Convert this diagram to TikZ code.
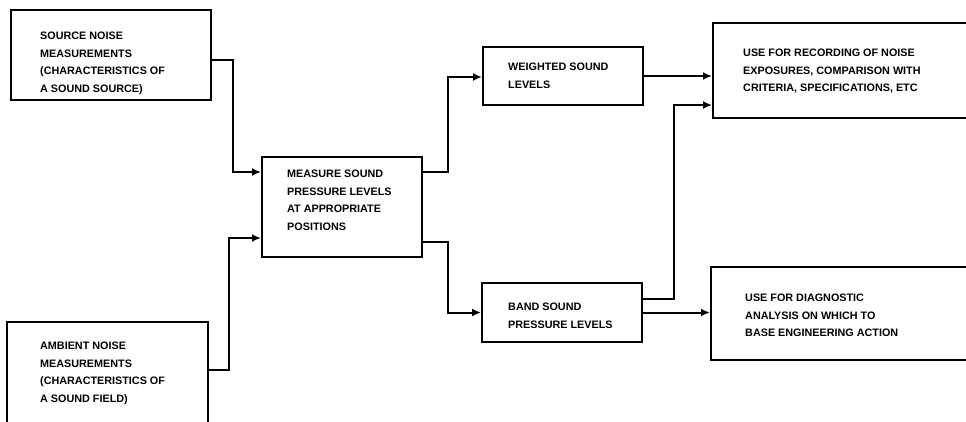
\documentclass[tikz,border=0pt]{standalone}
\usepackage{fontspec}
\setmainfont{Liberation Sans}
\usetikzlibrary{calc,arrows.meta}
\begin{document}
\begin{tikzpicture}[x=1pt,y=-1pt,
  box/.style={draw,line width=2pt,inner sep=0pt,rectangle},
  lbl/.style={anchor=north west,inner sep=0pt,align=left,
    font=\bfseries\fontsize{10.8}{17.5}\selectfont},
  conn/.style={line width=2pt,-{Latex[length=9pt,width=8pt]}}]
\useasboundingbox (0,0) rectangle (966,422);
\clip (0,0) rectangle (966,422);
% boxes
\node[box,minimum width=200pt,minimum height=90pt] (src) at (111,55) {};
\node[box,minimum width=201pt,minimum height=118pt] (amb) at (107.5,381) {};
\node[box,minimum width=160pt,minimum height=100pt] (meas) at (342,207) {};
\node[box,minimum width=160pt,minimum height=58pt] (wtd) at (563,76) {};
\node[box,minimum width=160pt,minimum height=59pt] (band) at (562,312.5) {};
\node[box,minimum width=277pt,minimum height=95pt] (use) at (851.5,70.5) {};
\node[box,minimum width=279pt,minimum height=93pt] (diag) at (850.5,313.5) {};
% texts
\node[lbl] (tsrc) at (40,32) {SOURCE NOISE\\MEASUREMENTS\\(CHARACTERISTICS OF\\A SOUND SOURCE)};
\node[lbl] (tamb) at (40,342) {AMBIENT NOISE\\MEASUREMENTS\\(CHARACTERISTICS OF\\A SOUND FIELD)};
\node[lbl] (tmeas) at (287,170) {MEASURE SOUND\\PRESSURE LEVELS\\AT APPROPRIATE\\POSITIONS};
\node[lbl] (twtd) at (508,63) {WEIGHTED SOUND\\LEVELS};
\node[lbl] (tband) at (508,303) {BAND SOUND\\PRESSURE LEVELS};
\node[lbl] (tuse) at (743,49) {USE FOR RECORDING OF NOISE\\EXPOSURES, COMPARISON WITH\\CRITERIA, SPECIFICATIONS, ETC};
\node[lbl] (tdiag) at (745,294) {USE FOR DIAGNOSTIC\\ANALYSIS ON WHICH TO\\BASE ENGINEERING ACTION};
% connectors
\draw[conn] ($(src.east)+(0,5)$) -- ++(21,0) |- ($(meas.west)+(0,-35)$);
\draw[conn] ($(amb.east)+(0,-11)$) -- ++(20,0) |- ($(meas.west)+(0,31)$);
\draw[conn] ($(meas.east)+(0,-35)$) -- ++(25,0) |- ($(wtd.west)+(0,1)$);
\draw[conn] ($(meas.east)+(0,35)$) -- ++(25,0) |- (band.west);
\draw[conn] (wtd.east) -- (use.west |- wtd.east);
\draw[conn] ($(band.east)+(0,-14)$) -- ++(31,0) |- ($(use.west)+(0,34.5)$);
\draw[conn] (band.east) -- (diag.west |- band.east);
\end{tikzpicture}
\end{document}
